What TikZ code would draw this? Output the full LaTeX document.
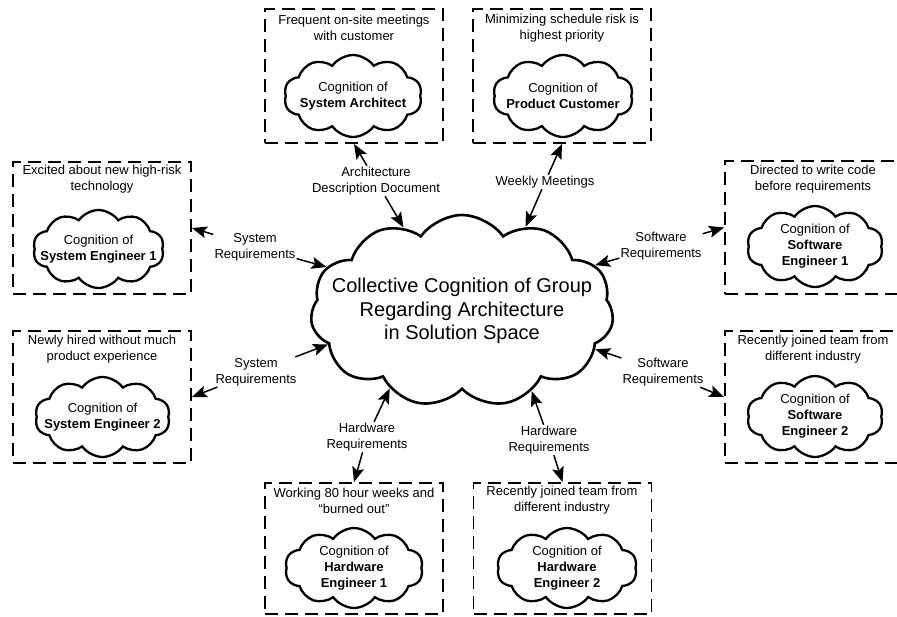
\documentclass[tikz,border=0pt]{standalone}
\usepackage{fontspec}
\setmainfont{Liberation Sans}
\usetikzlibrary{shapes.symbols,arrows.meta}
\begin{document}
\begin{tikzpicture}[x=1pt,y=-1pt,
  dbox/.style={draw, line width=1.9pt, dash pattern=on 13pt off 7pt, minimum width=178pt, minimum height=134pt, inner sep=0pt},
  cog/.style={cloud, draw, line width=2.3pt, cloud puffs=10, cloud puff arc=110, cloud ignores aspect, minimum width=138pt, minimum height=82pt, inner sep=0pt},
  ctext/.style={align=center, font=\fontsize{13}{16}\selectfont},
  note/.style={align=center, font=\fontsize{13}{16}\selectfont, inner sep=1pt},
  lbl/.style={align=center, font=\fontsize{13}{16}\selectfont, inner sep=1pt},
  arr/.style={-{Stealth[length=15pt,width=12pt,inset=3pt]}, line width=1.5pt},
]
\clip (0,0) rectangle (897,616);
% boxes
\node[dbox] (bA) at (354,76) {};
\node[dbox] (bB) at (562,76) {};
\node[dbox, minimum height=132pt] (bE1) at (102,228) {};
\node[dbox, minimum height=132pt] (bE2) at (102,397) {};
\node[dbox, minimum height=133pt] (bS1) at (814,227.5) {};
\node[dbox, minimum height=132pt] (bS2) at (814,397) {};
\node[dbox, minimum height=131pt] (bH1) at (354,548.5) {};
\node[dbox, minimum height=131pt] (bH2) at (562.5,548.5) {};
% notes
\node[note] (nA) at (354,28) {Frequent on-site meetings\\with customer};
\node[note] (nB) at (562,28) {Minimizing schedule risk is\\highest priority};
\node[note] (nE1) at (102,179.5) {Excited about new high-risk\\technology};
\node[note] (nE2) at (102,349.5) {Newly hired without much\\product experience};
\node[note] (nS1) at (813,179.5) {Directed to write code\\before requirements};
\node[note] (nS2) at (813,349.5) {Recently joined team from\\different industry};
\node[note] (nH1) at (354,500.5) {Working 80 hour weeks and\\“burned out”};
\node[note] (nH2) at (562,500.5) {Recently joined team from\\different industry};
% clouds
\node[cog, label={[ctext]center:Cognition of\\\textbf{System Architect}}] (cA) at (353,96) {};
\node[cog, minimum width=140pt, label={[ctext]center:Cognition of\\\textbf{Product Customer}}] (cB) at (563,96) {};
\node[cog, minimum width=131pt, minimum height=78pt, label={[ctext]center:Cognition of\\\textbf{System Engineer 1}}] (cE1) at (98.5,249) {};
\node[cog, minimum width=135pt, minimum height=80pt, label={[ctext]center:Cognition of\\\textbf{System Engineer 2}}] (cE2) at (102.5,417) {};
\node[cog, minimum width=136pt, minimum height=81pt, label={[ctext]center:Cognition of\\\textbf{Software}\\\textbf{Engineer 1}}] (cS1) at (815,246.5) {};
\node[cog, minimum width=136pt, minimum height=81pt, label={[ctext]center:Cognition of\\\textbf{Software}\\\textbf{Engineer 2}}] (cS2) at (815,416.5) {};
\node[cog, minimum height=80pt, label={[ctext]center:Cognition of\\\textbf{Hardware}\\\textbf{Engineer 1}}] (cH1) at (354,568) {};
\node[cog, minimum width=140pt, minimum height=80pt, label={[ctext]center:Cognition of\\\textbf{Hardware}\\\textbf{Engineer 2}}] (cH2) at (567,568) {};
\node[cloud, draw, line width=2.6pt, cloud puffs=11, cloud puff arc=110, cloud ignores aspect, minimum width=303pt, minimum height=192pt, inner sep=0pt,
  label={[align=center, font=\fontsize{20}{23.5}\selectfont]center:Collective Cognition of Group\\Regarding Architecture\\in Solution Space}] (cc) at (462,311) {};
% labels
\node[lbl] (lA) at (376,181) {Architecture\\Description Document};
\node[lbl] (lB) at (545,182) {Weekly Meetings};
\node[lbl] (lE1) at (255,247) {System\\Requirements};
\node[lbl] (lE2) at (256,372) {System\\Requirements};
\node[lbl] (lS1) at (661,246) {Software\\Requirements};
\node[lbl] (lS2) at (663,372) {Software\\Requirements};
\node[lbl] (lH1) at (367,437) {Hardware\\Requirements};
\node[lbl] (lH2) at (549,440) {Hardware\\Requirements};
% arrows
\draw[arr] (lA) -- (bA.south);
\draw[arr] (lA) -- (cc.125);
\draw[arr] (lB) -- (bB.south);
\draw[arr] (lB) -- (cc.53);
\draw[arr] (lE1) -- (bE1.east);
\draw[arr] (lE1) -- (cc.162);
\draw[arr] (lE2) -- (bE2.east);
\draw[arr] (lE2) -- (cc.194);
\draw[arr] (lS1) -- (bS1.west);
\draw[arr] (lS1) -- (cc.19);
\draw[arr] (lS2) -- (bS2.west);
\draw[arr] (lS2) -- (cc.344);
\draw[arr] (lH1) -- (bH1.north);
\draw[arr] (lH1) -- (cc.227);
\draw[arr] (lH2) -- (bH2.north);
\draw[arr] (lH2) -- (cc.311);
\end{tikzpicture}
\end{document}
